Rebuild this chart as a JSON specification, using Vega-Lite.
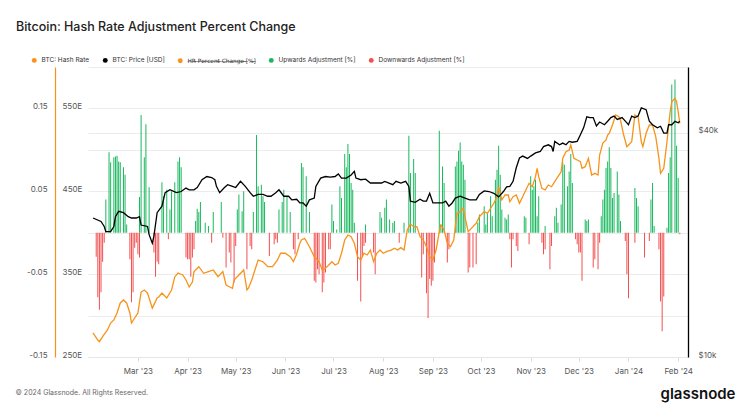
{
  "$schema": "https://vega.github.io/schema/vega-lite/v6.json",
  "width": 600,
  "height": 290,
  "autosize": {"type": "none"},
  "padding": {"left": 88, "top": 67, "right": 57, "bottom": 62},
  "background": "#ffffff",
  "title": {"text": "Bitcoin: Hash Rate Adjustment Percent Change", "anchor": "start", "frame": "group", "dx": -72, "offset": 24, "fontSize": 12.5, "fontWeight": 500, "color": "#222222", "font": "Inter"},
  "datasets": {
    "up": [
      {"date":"2023-02-09","v":0.040},{"date":"2023-02-11","v":0.097},{"date":"2023-02-12","v":0.085},{"date":"2023-02-14","v":0.091},{"date":"2023-02-15","v":0.092},{"date":"2023-02-16","v":0.093},{"date":"2023-02-17","v":0.086},{"date":"2023-02-18","v":0.085},{"date":"2023-02-20","v":0.079},{"date":"2023-02-21","v":0.070},{"date":"2023-02-22","v":0.010},
      {"date":"2023-03-02","v":0.043},{"date":"2023-03-03","v":0.142},{"date":"2023-03-05","v":0.091},{"date":"2023-03-06","v":0.131},{"date":"2023-03-08","v":0.055},{"date":"2023-03-16","v":0.061},{"date":"2023-03-17","v":0.044},{"date":"2023-03-19","v":0.052},{"date":"2023-03-21","v":0.028},{"date":"2023-03-22","v":0.050},{"date":"2023-03-24","v":0.061},{"date":"2023-03-26","v":0.086},{"date":"2023-03-27","v":0.091},{"date":"2023-03-28","v":0.079},
      {"date":"2023-04-06","v":0.014},{"date":"2023-04-07","v":0.029},{"date":"2023-04-08","v":0.025},{"date":"2023-04-09","v":0.037},{"date":"2023-04-12","v":0.012},{"date":"2023-04-14","v":0.008},{"date":"2023-04-17","v":0.025},{"date":"2023-04-22","v":0.037},
      {"date":"2023-05-02","v":0.028},{"date":"2023-05-03","v":0.046},{"date":"2023-05-05","v":0.026},{"date":"2023-05-06","v":0.050},{"date":"2023-05-12","v":0.025},{"date":"2023-05-14","v":0.118},{"date":"2023-05-15","v":0.056},{"date":"2023-05-17","v":0.058},{"date":"2023-05-18","v":0.044},{"date":"2023-05-19","v":0.037},{"date":"2023-05-28","v":0.028},{"date":"2023-05-30","v":0.037},{"date":"2023-05-31","v":0.052},
      {"date":"2023-06-02","v":0.044},{"date":"2023-06-04","v":0.025},{"date":"2023-06-11","v":0.084},{"date":"2023-06-12","v":0.079},{"date":"2023-06-14","v":0.068},{"date":"2023-06-16","v":0.025},{"date":"2023-06-30","v":0.034},
      {"date":"2023-07-01","v":0.014},{"date":"2023-07-03","v":0.004},{"date":"2023-07-05","v":0.056},{"date":"2023-07-06","v":0.042},{"date":"2023-07-08","v":0.095},{"date":"2023-07-09","v":0.079},{"date":"2023-07-10","v":0.107},{"date":"2023-07-11","v":0.095},{"date":"2023-07-12","v":0.060},{"date":"2023-07-13","v":0.052},{"date":"2023-07-14","v":0.012},{"date":"2023-07-21","v":0.010},{"date":"2023-07-30","v":0.025},{"date":"2023-07-31","v":0.018},
      {"date":"2023-08-02","v":0.030},{"date":"2023-08-03","v":0.040},{"date":"2023-08-05","v":0.016},{"date":"2023-08-07","v":0.012},{"date":"2023-08-08","v":0.014},{"date":"2023-08-14","v":0.012},{"date":"2023-08-17","v":0.117},{"date":"2023-08-18","v":0.072},{"date":"2023-08-20","v":0.089},{"date":"2023-08-21","v":0.072},
      {"date":"2023-09-05","v":0.123},{"date":"2023-09-06","v":0.010},{"date":"2023-09-07","v":0.080},{"date":"2023-09-08","v":0.060},{"date":"2023-09-15","v":0.080},{"date":"2023-09-16","v":0.086},{"date":"2023-09-17","v":0.099},{"date":"2023-09-18","v":0.109},{"date":"2023-09-19","v":0.086},{"date":"2023-09-20","v":0.082},{"date":"2023-09-21","v":0.064},{"date":"2023-09-29","v":0.012},{"date":"2023-09-30","v":0.022},
      {"date":"2023-10-03","v":0.032},{"date":"2023-10-04","v":0.010},{"date":"2023-10-05","v":0.024},{"date":"2023-10-07","v":0.044},{"date":"2023-10-08","v":0.020},{"date":"2023-10-10","v":0.064},{"date":"2023-10-11","v":0.076},{"date":"2023-10-12","v":0.105},{"date":"2023-10-13","v":0.070},{"date":"2023-10-14","v":0.028},{"date":"2023-10-16","v":0.018},{"date":"2023-10-17","v":0.016},{"date":"2023-10-18","v":0.022},{"date":"2023-10-28","v":0.020},{"date":"2023-10-29","v":0.018},
      {"date":"2023-11-01","v":0.068},{"date":"2023-11-02","v":0.052},{"date":"2023-11-03","v":0.056},{"date":"2023-11-04","v":0.064},{"date":"2023-11-05","v":0.020},{"date":"2023-11-06","v":0.044},{"date":"2023-11-10","v":0.008},{"date":"2023-11-16","v":0.020},{"date":"2023-11-17","v":0.030},{"date":"2023-11-18","v":0.012},{"date":"2023-11-20","v":0.034},{"date":"2023-11-21","v":0.085},{"date":"2023-11-22","v":0.082},{"date":"2023-11-24","v":0.056},{"date":"2023-11-25","v":0.074},{"date":"2023-11-26","v":0.095},{"date":"2023-11-27","v":0.060},
      {"date":"2023-12-05","v":0.016},{"date":"2023-12-06","v":0.014},{"date":"2023-12-07","v":0.016},{"date":"2023-12-15","v":0.020},{"date":"2023-12-16","v":0.040},{"date":"2023-12-17","v":0.052},{"date":"2023-12-18","v":0.078},{"date":"2023-12-19","v":0.086},{"date":"2023-12-20","v":0.103},{"date":"2023-12-21","v":0.078},{"date":"2023-12-22","v":0.042},{"date":"2023-12-23","v":0.048},{"date":"2023-12-25","v":0.074},{"date":"2023-12-26","v":0.046},{"date":"2023-12-27","v":0.014},
      {"date":"2024-01-05","v":0.054},{"date":"2024-01-06","v":0.042},{"date":"2024-01-07","v":0.032},{"date":"2024-01-15","v":0.040},{"date":"2024-01-16","v":0.060},{"date":"2024-01-17","v":0.008},{"date":"2024-01-25","v":0.006},{"date":"2024-01-26","v":0.072},{"date":"2024-01-27","v":0.091},{"date":"2024-01-28","v":0.179},{"date":"2024-01-30","v":0.185},{"date":"2024-01-31","v":0.105},{"date":"2024-02-01","v":0.066}
    ],
    "down": [
      {"date":"2023-02-03","v":-0.029},{"date":"2023-02-04","v":-0.078},{"date":"2023-02-05","v":-0.093},{"date":"2023-02-06","v":-0.072},{"date":"2023-02-07","v":-0.035},{"date":"2023-02-08","v":-0.012},{"date":"2023-02-24","v":-0.032},{"date":"2023-02-25","v":-0.084},{"date":"2023-02-26","v":-0.072},{"date":"2023-02-27","v":-0.018},{"date":"2023-02-28","v":-0.012},
      {"date":"2023-03-01","v":-0.026},{"date":"2023-03-02","v":-0.030},{"date":"2023-03-11","v":-0.024},{"date":"2023-03-12","v":-0.053},{"date":"2023-03-13","v":-0.035},{"date":"2023-03-14","v":-0.038},{"date":"2023-03-20","v":-0.008},{"date":"2023-03-31","v":-0.030},
      {"date":"2023-04-01","v":-0.032},{"date":"2023-04-02","v":-0.032},{"date":"2023-04-03","v":-0.053},{"date":"2023-04-04","v":-0.030},{"date":"2023-04-05","v":-0.020},{"date":"2023-04-16","v":-0.012},{"date":"2023-04-23","v":-0.006},{"date":"2023-04-25","v":-0.042},{"date":"2023-04-27","v":-0.024},{"date":"2023-04-28","v":-0.036},{"date":"2023-04-30","v":-0.060},
      {"date":"2023-05-01","v":-0.016},{"date":"2023-05-08","v":-0.044},{"date":"2023-05-10","v":-0.016},{"date":"2023-05-11","v":-0.020},{"date":"2023-05-22","v":-0.028},{"date":"2023-05-25","v":-0.014},{"date":"2023-05-26","v":-0.008},{"date":"2023-05-27","v":-0.012},
      {"date":"2023-06-06","v":-0.020},{"date":"2023-06-07","v":-0.026},{"date":"2023-06-09","v":-0.008},{"date":"2023-06-19","v":-0.058},{"date":"2023-06-20","v":-0.060},{"date":"2023-06-21","v":-0.044},{"date":"2023-06-22","v":-0.050},{"date":"2023-06-24","v":-0.072},{"date":"2023-06-25","v":-0.060},{"date":"2023-06-26","v":-0.048},{"date":"2023-06-28","v":-0.020},{"date":"2023-06-29","v":-0.020},
      {"date":"2023-07-16","v":-0.058},{"date":"2023-07-18","v":-0.083},{"date":"2023-07-19","v":-0.028},{"date":"2023-07-20","v":-0.016},{"date":"2023-07-21","v":-0.012},{"date":"2023-07-26","v":-0.024},{"date":"2023-07-27","v":-0.050},
      {"date":"2023-08-11","v":-0.012},{"date":"2023-08-25","v":-0.054},{"date":"2023-08-26","v":-0.026},{"date":"2023-08-28","v":-0.073},{"date":"2023-08-29","v":-0.103},{"date":"2023-08-30","v":-0.056},{"date":"2023-08-31","v":-0.064},
      {"date":"2023-09-01","v":-0.058},{"date":"2023-09-02","v":-0.036},{"date":"2023-09-10","v":-0.036},{"date":"2023-09-11","v":-0.020},{"date":"2023-09-23","v":-0.048},{"date":"2023-09-24","v":-0.042},{"date":"2023-09-26","v":-0.042},{"date":"2023-09-28","v":-0.038},
      {"date":"2023-10-19","v":-0.008},{"date":"2023-10-20","v":-0.042},{"date":"2023-10-21","v":-0.008},{"date":"2023-10-23","v":-0.016},{"date":"2023-10-24","v":-0.022},{"date":"2023-10-31","v":-0.014},
      {"date":"2023-11-08","v":-0.012},{"date":"2023-11-09","v":-0.026},{"date":"2023-11-10","v":-0.020},{"date":"2023-11-13","v":-0.044},{"date":"2023-11-14","v":-0.016},{"date":"2023-11-29","v":-0.008},{"date":"2023-11-30","v":-0.014},
      {"date":"2023-12-01","v":-0.024},{"date":"2023-12-02","v":-0.024},{"date":"2023-12-03","v":-0.058},{"date":"2023-12-10","v":-0.042},{"date":"2023-12-11","v":-0.032},{"date":"2023-12-13","v":-0.044},{"date":"2023-12-14","v":-0.012},{"date":"2023-12-30","v":-0.010},{"date":"2023-12-31","v":-0.050},
      {"date":"2024-01-01","v":-0.079},{"date":"2024-01-05","v":-0.012},{"date":"2024-01-11","v":-0.030},{"date":"2024-01-14","v":-0.010},{"date":"2024-01-20","v":-0.020},{"date":"2024-01-21","v":-0.083},{"date":"2024-01-22","v":-0.119},{"date":"2024-01-23","v":-0.077},{"date":"2024-02-02","v":-0.002}
    ],
    "hr": [
      {"date":"2023-02-01","hr":279},{"date":"2023-02-04","hr":270.5},{"date":"2023-02-05","hr":268.5},{"date":"2023-02-07","hr":274.5},{"date":"2023-02-10","hr":282.6},{"date":"2023-02-12","hr":291},{"date":"2023-02-14","hr":294.7},{"date":"2023-02-16","hr":303.1},{"date":"2023-02-18","hr":315.2},{"date":"2023-02-20","hr":318.8},{"date":"2023-02-22","hr":315.2},{"date":"2023-02-24","hr":303.1},{"date":"2023-02-25","hr":291},{"date":"2023-02-27","hr":297.1},
      {"date":"2023-03-01","hr":303.1},{"date":"2023-03-03","hr":328.4},{"date":"2023-03-05","hr":330.9},{"date":"2023-03-07","hr":327.2},{"date":"2023-03-10","hr":309},{"date":"2023-03-13","hr":321.2},{"date":"2023-03-14","hr":322.4},{"date":"2023-03-16","hr":327.2},{"date":"2023-03-19","hr":321.2},{"date":"2023-03-22","hr":330.9},{"date":"2023-03-24","hr":346.6},{"date":"2023-03-26","hr":351.4},{"date":"2023-03-29","hr":349},{"date":"2023-03-31","hr":342.9},
      {"date":"2023-04-02","hr":334.5},{"date":"2023-04-04","hr":340.5},{"date":"2023-04-05","hr":353},{"date":"2023-04-08","hr":359},{"date":"2023-04-11","hr":351},{"date":"2023-04-14","hr":353},{"date":"2023-04-17","hr":355},{"date":"2023-04-20","hr":346.9},{"date":"2023-04-23","hr":353},{"date":"2023-04-25","hr":336.9},{"date":"2023-04-27","hr":334.8},{"date":"2023-04-29","hr":332.9},{"date":"2023-04-30","hr":342.9},
      {"date":"2023-05-03","hr":349},{"date":"2023-05-06","hr":355},{"date":"2023-05-08","hr":330.9},{"date":"2023-05-09","hr":333.3},{"date":"2023-05-11","hr":342.9},{"date":"2023-05-13","hr":355},{"date":"2023-05-15","hr":367},{"date":"2023-05-18","hr":365},{"date":"2023-05-21","hr":359},{"date":"2023-05-24","hr":359},{"date":"2023-05-27","hr":367},{"date":"2023-05-29","hr":375.2},
      {"date":"2023-06-01","hr":375.2},{"date":"2023-06-04","hr":371},{"date":"2023-06-06","hr":365},{"date":"2023-06-08","hr":374},{"date":"2023-06-10","hr":387.2},{"date":"2023-06-11","hr":391.2},{"date":"2023-06-13","hr":393.3},{"date":"2023-06-16","hr":383.1},{"date":"2023-06-19","hr":371},{"date":"2023-06-22","hr":365},{"date":"2023-06-24","hr":355},{"date":"2023-06-26","hr":357},{"date":"2023-06-28","hr":361},{"date":"2023-06-30","hr":365},
      {"date":"2023-07-02","hr":361},{"date":"2023-07-04","hr":363.1},{"date":"2023-07-06","hr":375.2},{"date":"2023-07-08","hr":391.2},{"date":"2023-07-10","hr":397.2},{"date":"2023-07-12","hr":395.2},{"date":"2023-07-14","hr":387.2},{"date":"2023-07-16","hr":371},{"date":"2023-07-18","hr":367},{"date":"2023-07-20","hr":375.2},{"date":"2023-07-22","hr":373.1},{"date":"2023-07-24","hr":379.1},{"date":"2023-07-26","hr":365},{"date":"2023-07-28","hr":375.2},{"date":"2023-07-30","hr":379.1},
      {"date":"2023-08-01","hr":375.2},{"date":"2023-08-03","hr":377.1},{"date":"2023-08-06","hr":379.1},{"date":"2023-08-08","hr":381.2},{"date":"2023-08-10","hr":379.1},{"date":"2023-08-12","hr":382},{"date":"2023-08-14","hr":379.1},{"date":"2023-08-16","hr":403.3},{"date":"2023-08-18","hr":410.5},{"date":"2023-08-20","hr":407.3},{"date":"2023-08-22","hr":407.3},{"date":"2023-08-24","hr":395.2},{"date":"2023-08-26","hr":391.2},{"date":"2023-08-28","hr":383.1},{"date":"2023-08-30","hr":371},
      {"date":"2023-09-01","hr":367},{"date":"2023-09-03","hr":379.1},{"date":"2023-09-05","hr":401.2},{"date":"2023-09-06","hr":409.3},{"date":"2023-09-08","hr":403.3},{"date":"2023-09-10","hr":387.2},{"date":"2023-09-12","hr":383.1},{"date":"2023-09-14","hr":391.2},{"date":"2023-09-16","hr":423.4},{"date":"2023-09-18","hr":425.4},{"date":"2023-09-20","hr":429.5},{"date":"2023-09-21","hr":419.3},{"date":"2023-09-23","hr":401.2},{"date":"2023-09-25","hr":405.3},{"date":"2023-09-28","hr":411.4},{"date":"2023-09-30","hr":419.3},
      {"date":"2023-10-03","hr":425.4},{"date":"2023-10-05","hr":423.4},{"date":"2023-10-07","hr":429.5},{"date":"2023-10-09","hr":435.5},{"date":"2023-10-11","hr":443.5},{"date":"2023-10-12","hr":455.5},{"date":"2023-10-14","hr":439.5},{"date":"2023-10-16","hr":445.5},{"date":"2023-10-18","hr":445.5},{"date":"2023-10-19","hr":437.4},{"date":"2023-10-21","hr":443.5},{"date":"2023-10-23","hr":445.5},{"date":"2023-10-25","hr":435.5},{"date":"2023-10-27","hr":443.5},{"date":"2023-10-29","hr":451.6},{"date":"2023-10-31","hr":459.6},
      {"date":"2023-11-02","hr":455.5},{"date":"2023-11-04","hr":467.6},{"date":"2023-11-05","hr":477.7},{"date":"2023-11-06","hr":467.6},{"date":"2023-11-08","hr":453.6},{"date":"2023-11-10","hr":451.6},{"date":"2023-11-12","hr":457.6},{"date":"2023-11-14","hr":455.5},{"date":"2023-11-16","hr":461.6},{"date":"2023-11-18","hr":467.6},{"date":"2023-11-20","hr":473.6},{"date":"2023-11-21","hr":489.8},{"date":"2023-11-23","hr":497.8},{"date":"2023-11-25","hr":499.8},{"date":"2023-11-26","hr":505.9},{"date":"2023-11-28","hr":489.8},{"date":"2023-11-30","hr":487.8},
      {"date":"2023-12-02","hr":485.7},{"date":"2023-12-03","hr":477.7},{"date":"2023-12-05","hr":479.7},{"date":"2023-12-07","hr":489.8},{"date":"2023-12-09","hr":469.7},{"date":"2023-12-11","hr":471.7},{"date":"2023-12-13","hr":469.7},{"date":"2023-12-14","hr":493.8},{"date":"2023-12-16","hr":508.3},{"date":"2023-12-18","hr":511.9},{"date":"2023-12-19","hr":517.9},{"date":"2023-12-20","hr":520},{"date":"2023-12-22","hr":530},{"date":"2023-12-24","hr":542.1},{"date":"2023-12-26","hr":540},{"date":"2023-12-27","hr":536},{"date":"2023-12-29","hr":517.9},{"date":"2023-12-31","hr":503.8},
      {"date":"2024-01-03","hr":509.8},{"date":"2024-01-05","hr":542.1},{"date":"2024-01-07","hr":540},{"date":"2024-01-09","hr":509.8},{"date":"2024-01-10","hr":503.8},{"date":"2024-01-12","hr":520},{"date":"2024-01-14","hr":530},{"date":"2024-01-16","hr":530},{"date":"2024-01-18","hr":515.9},{"date":"2024-01-20","hr":489.8},{"date":"2024-01-21","hr":471.7},{"date":"2024-01-23","hr":477.7},{"date":"2024-01-25","hr":509.8},{"date":"2024-01-27","hr":546},{"date":"2024-01-28","hr":558.1},{"date":"2024-01-30","hr":562.2},{"date":"2024-01-31","hr":558.1},{"date":"2024-02-01","hr":546},{"date":"2024-02-02","hr":532}
    ],
    "price": [
      {"date":"2023-02-01","p":23600},{"date":"2023-02-06","p":23100},{"date":"2023-02-08","p":22400},{"date":"2023-02-09","p":21700},{"date":"2023-02-12","p":21700},{"date":"2023-02-14","p":22400},{"date":"2023-02-15","p":23800},{"date":"2023-02-17","p":24600},{"date":"2023-02-20","p":24400},{"date":"2023-02-23","p":23800},{"date":"2023-02-25","p":23600},{"date":"2023-02-28","p":23600},
      {"date":"2023-03-02","p":23800},{"date":"2023-03-03","p":22600},{"date":"2023-03-07","p":22400},{"date":"2023-03-08","p":21300},{"date":"2023-03-10","p":20200},{"date":"2023-03-11","p":21100},{"date":"2023-03-13","p":24400},{"date":"2023-03-16","p":25400},{"date":"2023-03-18","p":27600},{"date":"2023-03-21","p":28100},{"date":"2023-03-25","p":27600},{"date":"2023-03-28","p":27800},{"date":"2023-03-31","p":28400},
      {"date":"2023-04-02","p":28100},{"date":"2023-04-05","p":28100},{"date":"2023-04-07","p":28500},{"date":"2023-04-10","p":29900},{"date":"2023-04-13","p":30500},{"date":"2023-04-16","p":30300},{"date":"2023-04-18","p":29900},{"date":"2023-04-19","p":28700},{"date":"2023-04-21","p":27600},{"date":"2023-04-24","p":28500},{"date":"2023-04-26","p":29000},{"date":"2023-04-29","p":28700},
      {"date":"2023-05-01","p":28500},{"date":"2023-05-04","p":29600},{"date":"2023-05-07","p":28700},{"date":"2023-05-10","p":27600},{"date":"2023-05-12","p":27000},{"date":"2023-05-15","p":27300},{"date":"2023-05-18","p":27300},{"date":"2023-05-21","p":27000},{"date":"2023-05-23","p":27000},{"date":"2023-05-26","p":27600},{"date":"2023-05-28","p":28100},{"date":"2023-05-31","p":27000},
      {"date":"2023-06-03","p":27000},{"date":"2023-06-05","p":26400},{"date":"2023-06-08","p":26500},{"date":"2023-06-10","p":25900},{"date":"2023-06-12","p":25900},{"date":"2023-06-14","p":25400},{"date":"2023-06-16","p":26400},{"date":"2023-06-19","p":26700},{"date":"2023-06-20","p":28700},{"date":"2023-06-23","p":30200},{"date":"2023-06-26","p":30500},{"date":"2023-06-29","p":30400},
      {"date":"2023-07-02","p":30500},{"date":"2023-07-04","p":31000},{"date":"2023-07-06","p":30200},{"date":"2023-07-09","p":30200},{"date":"2023-07-12","p":30800},{"date":"2023-07-14","p":31500},{"date":"2023-07-15","p":30200},{"date":"2023-07-18","p":29900},{"date":"2023-07-21","p":30000},{"date":"2023-07-24","p":29300},{"date":"2023-07-27","p":29300},{"date":"2023-07-31","p":29300},
      {"date":"2023-08-02","p":29600},{"date":"2023-08-07","p":29000},{"date":"2023-08-09","p":29600},{"date":"2023-08-12","p":29300},{"date":"2023-08-15","p":29600},{"date":"2023-08-17","p":28700},{"date":"2023-08-18","p":26200},{"date":"2023-08-21","p":26000},{"date":"2023-08-24","p":26500},{"date":"2023-08-26","p":26200},{"date":"2023-08-28","p":26200},{"date":"2023-08-30","p":27500},{"date":"2023-08-31","p":26700},
      {"date":"2023-09-01","p":25900},{"date":"2023-09-04","p":25900},{"date":"2023-09-07","p":25900},{"date":"2023-09-09","p":26200},{"date":"2023-09-11","p":25400},{"date":"2023-09-13","p":25900},{"date":"2023-09-15","p":26700},{"date":"2023-09-18","p":27000},{"date":"2023-09-21","p":26700},{"date":"2023-09-24","p":26400},{"date":"2023-09-28","p":26400},{"date":"2023-09-30","p":27300},
      {"date":"2023-10-03","p":27900},{"date":"2023-10-06","p":27800},{"date":"2023-10-09","p":27500},{"date":"2023-10-12","p":26900},{"date":"2023-10-15","p":27800},{"date":"2023-10-17","p":28600},{"date":"2023-10-19","p":28700},{"date":"2023-10-21","p":29600},{"date":"2023-10-23","p":32200},{"date":"2023-10-25","p":34200},{"date":"2023-10-27","p":34600},{"date":"2023-10-30","p":34100},
      {"date":"2023-11-01","p":34600},{"date":"2023-11-04","p":35300},{"date":"2023-11-07","p":35600},{"date":"2023-11-09","p":36700},{"date":"2023-11-12","p":37100},{"date":"2023-11-14","p":36700},{"date":"2023-11-15","p":35600},{"date":"2023-11-16","p":37900},{"date":"2023-11-19","p":37100},{"date":"2023-11-21","p":37500},{"date":"2023-11-23","p":37100},{"date":"2023-11-25","p":37900},{"date":"2023-11-27","p":37700},{"date":"2023-11-30","p":37900},
      {"date":"2023-12-02","p":39500},{"date":"2023-12-04","p":41200},{"date":"2023-12-06","p":44100},{"date":"2023-12-08","p":43900},{"date":"2023-12-10","p":43900},{"date":"2023-12-12","p":41700},{"date":"2023-12-14","p":42700},{"date":"2023-12-17","p":42000},{"date":"2023-12-19","p":42900},{"date":"2023-12-21","p":43900},{"date":"2023-12-23","p":44300},{"date":"2023-12-25","p":43400},{"date":"2023-12-28","p":43900},{"date":"2023-12-31","p":42500},
      {"date":"2024-01-01","p":42000},{"date":"2024-01-03","p":44300},{"date":"2024-01-05","p":43900},{"date":"2024-01-07","p":44300},{"date":"2024-01-09","p":46600},{"date":"2024-01-12","p":46100},{"date":"2024-01-14","p":42900},{"date":"2024-01-16","p":42000},{"date":"2024-01-19","p":41200},{"date":"2024-01-21","p":41600},{"date":"2024-01-23","p":39900},{"date":"2024-01-25","p":39900},{"date":"2024-01-26","p":42000},{"date":"2024-01-28","p":42000},{"date":"2024-01-30","p":42900},{"date":"2024-02-01","p":42500},{"date":"2024-02-02","p":42900}
    ]
  },
  "encoding": {
    "x": {
      "field": "date", "type": "temporal",
      "scale": {"domain": [{"year": 2023, "month": 2, "date": 1}, {"year": 2024, "month": 2, "date": 4}]},
      "axis": {
        "values": [{"year":2023,"month":3,"date":1},{"year":2023,"month":4,"date":1},{"year":2023,"month":5,"date":1},{"year":2023,"month":6,"date":1},{"year":2023,"month":7,"date":1},{"year":2023,"month":8,"date":1},{"year":2023,"month":9,"date":1},{"year":2023,"month":10,"date":1},{"year":2023,"month":11,"date":1},{"year":2023,"month":12,"date":1},{"year":2024,"month":1,"date":1},{"year":2024,"month":2,"date":1}],
        "format": "%b '%y", "labelFontSize": 8, "labelColor": "#555555", "labelPadding": 6,
        "tickSize": 4, "tickColor": "#dcdcdc", "domain": true, "domainColor": "#e6e6e6", "grid": false,
        "labelFlush": false, "labelOverlap": false,
        "title": "© 2024 Glassnode. All Rights Reserved.", "titleX": -73, "titleY": 35, "titleAlign": "left", "titleAnchor": "start", "titleBaseline": "middle", "titleFontSize": 7, "titleFontWeight": "normal", "titleColor": "#666666"
      }
    }
  },
  "layer": [
    {
      "encoding": {
        "y": {
          "field": "v", "type": "quantitative",
          "scale": {"domain": [-0.15, 0.2], "nice": false, "zero": true},
          "axis": {
            "orient": "left", "offset": 38, "title": null,
            "values": [-0.15, -0.1, -0.05, 0, 0.05, 0.1, 0.15, 0.2],
            "labelExpr": "(abs(datum.value) > 0.14 && abs(datum.value) < 0.16) || (abs(datum.value) > 0.04 && abs(datum.value) < 0.06) ? (datum.value < 0 ? '-' : '') + toString(round(abs(datum.value) * 100) / 100) : ''",
            "grid": true, "gridColor": "#ececec", "domain": false, "ticks": false, "tickSize": 0,
            "labelPadding": 3, "labelFontSize": 8, "labelColor": "#555555", "labelBaseline": "alphabetic"
          }
        }
      },
      "layer": [
        {
          "data": {"name": "up"},
          "mark": {"type": "bar", "size": 1.0},
          "encoding": {
            "color": {
              "datum": "Upwards Adjustment [%]",
              "scale": {"domain": ["BTC: Hash Rate", "BTC: Price [USD]", "HR Percent Change [%]", "Upwards Adjustment [%]", "Downwards Adjustment [%]"], "range": ["#f7931a", "#000000", "#f7931a", "#19b85e", "#f24f4f"]},
              "legend": {
                "orient": "none", "legendX": -57, "legendY": -10, "direction": "horizontal", "title": null,
                "symbolType": "circle", "symbolSize": 24, "symbolStrokeWidth": 0,
                "labelFontSize": 6.5, "labelColor": "#333333", "labelOffset": 4, "columnPadding": 12, "padding": 0,
                "labelExpr": "datum.label == 'HR Percent Change [%]' ? 'H\u0336R\u0336 \u0336P\u0336e\u0336r\u0336c\u0336e\u0336n\u0336t\u0336 \u0336C\u0336h\u0336a\u0336n\u0336g\u0336e\u0336 \u0336[\u0336%\u0336]\u0336' : datum.label",
                "encode": {
                  "symbols": {"update": {"fill": {"scale": "color", "field": "value"}, "stroke": {"value": "transparent"}, "opacity": {"value": 1}}},
                  "labels": {"update": {
                    "font": {"signal": "datum.label == 'HR Percent Change [%]' ? 'DejaVu Sans' : 'Inter'"},
                    "fontSize": {"signal": "datum.label == 'HR Percent Change [%]' ? 5.8 : 6.5"}
                  }}
                }
              }
            }
          }
        },
        {
          "data": {"name": "down"},
          "mark": {"type": "bar", "size": 1.0},
          "encoding": {
            "color": {
              "datum": "Downwards Adjustment [%]",
              "scale": {"domain": ["BTC: Hash Rate", "BTC: Price [USD]", "HR Percent Change [%]", "Upwards Adjustment [%]", "Downwards Adjustment [%]"], "range": ["#f7931a", "#000000", "#f7931a", "#19b85e", "#f24f4f"]}
            }
          }
        }
      ]
    },
    {
      "data": {"name": "hr"},
      "mark": {"type": "line", "strokeWidth": 1.3},
      "encoding": {
        "y": {
          "field": "hr", "type": "quantitative",
          "scale": {"domain": [250, 600], "nice": false, "zero": false},
          "axis": {
            "orient": "left", "offset": 33, "title": null,
            "values": [250, 350, 450, 550], "labelExpr": "datum.value + 'E'",
            "grid": false, "domain": true, "domainColor": "#f7931a", "domainWidth": 1.2,
            "ticks": false, "tickSize": 0, "labelAlign": "left", "labelPadding": -7,
            "labelFontSize": 8, "labelColor": "#555555", "labelBaseline": "alphabetic"
          }
        },
        "color": {
          "datum": "BTC: Hash Rate",
          "scale": {"domain": ["BTC: Hash Rate", "BTC: Price [USD]", "HR Percent Change [%]", "Upwards Adjustment [%]", "Downwards Adjustment [%]"], "range": ["#f7931a", "#000000", "#f7931a", "#19b85e", "#f24f4f"]}
        }
      }
    },
    {
      "data": {"name": "price"},
      "mark": {"type": "line", "strokeWidth": 1.3},
      "encoding": {
        "y": {
          "field": "p", "type": "quantitative",
          "scale": {"type": "log", "domain": [10000, 60000], "nice": false},
          "axis": {
            "orient": "right",
            "values": [10000, 40000], "labelExpr": "'$' + (datum.value / 1000) + 'k'",
            "grid": true, "gridColor": "#ececec", "domain": true, "domainColor": "#000000", "domainWidth": 1.3,
            "ticks": false, "tickSize": 0, "labelPadding": 10, "labelFontSize": 8, "labelColor": "#555555", "labelBaseline": "alphabetic",
            "title": "glassnode", "titleAngle": 0, "titleX": 47, "titleY": 326, "titleAlign": "right", "titleBaseline": "middle",
            "titleFontSize": 15, "titleFontWeight": 600, "titleColor": "#111111"
          }
        },
        "color": {
          "datum": "BTC: Price [USD]",
          "scale": {"domain": ["BTC: Hash Rate", "BTC: Price [USD]", "HR Percent Change [%]", "Upwards Adjustment [%]", "Downwards Adjustment [%]"], "range": ["#f7931a", "#000000", "#f7931a", "#19b85e", "#f24f4f"]}
        }
      }
    }
  ],
  "resolve": {"scale": {"y": "independent"}, "axis": {"y": "independent"}},
  "config": {
    "font": "Inter",
    "view": {"stroke": null},
    "axis": {"labelFont": "Inter", "titleFont": "Inter"},
    "legend": {"labelFont": "Inter"}
  }
}
